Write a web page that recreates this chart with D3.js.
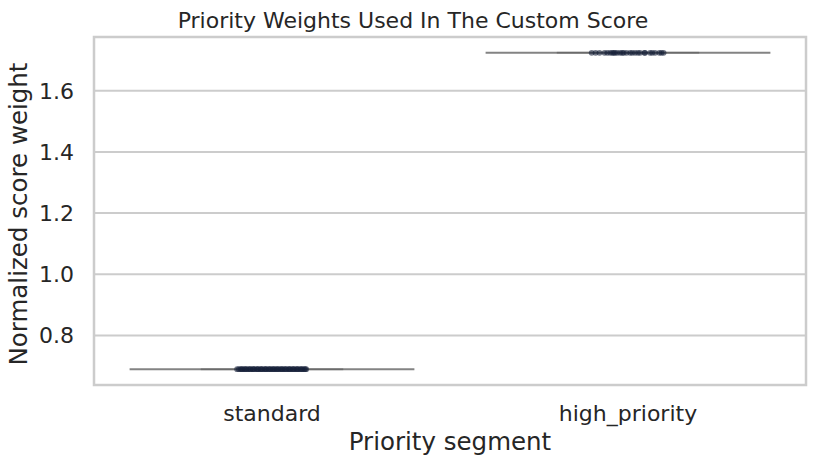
<!DOCTYPE html>
<html>
<head>
<meta charset="utf-8">
<script src="https://cdn.jsdelivr.net/npm/d3@7"></script>
<style>
  body { margin: 0; background: #fff; }
  text { font-family: "DejaVu Sans", sans-serif; fill: #262626; }
</style>
</head>
<body>
<div id="chart"></div>
<script>
// data
const categories = ['standard', 'high_priority']
const weights = [0.6897, 1.7241]          // constant weight per segment
const yTicks = [0.8, 1.0, 1.2, 1.4, 1.6]
// strip-plot jitter, as a fraction of the category band
const jitterStandard = [-0.098, -0.093, -0.088, -0.082, -0.077, -0.071, -0.066, -0.06, -0.054, -0.049,
  -0.043, -0.038, -0.032, -0.027, -0.021, -0.016, -0.01, -0.004, 0.001, 0.007, 0.012, 0.018,
  0.023, 0.029, 0.034, 0.04, 0.046, 0.051, 0.057, 0.062, 0.068, 0.073, 0.079, 0.085, 0.09, 0.096,
  -0.085, -0.062, -0.041, -0.018, 0.004, 0.027, 0.049, 0.071, 0.093, -0.074, -0.052, -0.03, -0.007,
  0.015, 0.038, 0.06, 0.082]
const jitterHigh = [-0.102, -0.091, -0.08, -0.066, -0.058, -0.05, -0.044, -0.036, -0.03, -0.022,
  -0.016, -0.004, 0.006, 0.02, 0.034, 0.048, 0.062, 0.076, 0.088, 0.1, -0.04, -0.012, 0.012,
  0.028, 0.046, 0.068, 0.094]

const W = 816, H = 466
const margin = { top: 37, right: 10, bottom: 81, left: 94 }

const svg = d3.select('#chart').append('svg')
  .attr('width', W)
  .attr('height', H)

const x = d3.scaleBand()
  .domain(categories)
  .range([margin.left, W - margin.right])
  .paddingInner(0)
  .paddingOuter(0)

const [lo, hi] = d3.extent(weights)
const pad = (hi - lo) * 0.05
const y = d3.scaleLinear()
  .domain([lo - pad, hi + pad])
  .range([H - margin.bottom, margin.top])

// grid
svg.append('g')
  .selectAll('line')
  .data(yTicks)
  .join('line')
  .attr('x1', margin.left)
  .attr('x2', W - margin.right)
  .attr('y1', d => y(d))
  .attr('y2', d => y(d))
  .attr('stroke', '#cccccc')
  .attr('stroke-width', 2)

// boxes collapse to a line, caps overlap the box edge
const boxW = x.bandwidth() * 0.8
const capW = boxW * 0.5
const box = svg.append('g')
  .selectAll('g')
  .data(categories)
  .join('g')

box.append('line')
  .attr('x1', d => x(d) + x.bandwidth() / 2 - boxW / 2)
  .attr('x2', d => x(d) + x.bandwidth() / 2 + boxW / 2)
  .attr('y1', (d, i) => y(weights[i]))
  .attr('y2', (d, i) => y(weights[i]))
  .attr('stroke', '#404040')
  .attr('stroke-opacity', 0.65)
  .attr('stroke-width', 2)

box.append('line')
  .attr('x1', d => x(d) + x.bandwidth() / 2 - capW / 2)
  .attr('x2', d => x(d) + x.bandwidth() / 2 + capW / 2)
  .attr('y1', (d, i) => y(weights[i]))
  .attr('y2', (d, i) => y(weights[i]))
  .attr('stroke', '#404040')
  .attr('stroke-opacity', 0.35)
  .attr('stroke-width', 2)

// strip points
const points = [
  ...jitterStandard.map(j => ({ cat: categories[0], value: weights[0], j })),
  ...jitterHigh.map(j => ({ cat: categories[1], value: weights[1], j }))
]
svg.append('g')
  .selectAll('circle')
  .data(points)
  .join('circle')
  .attr('cx', d => x(d.cat) + x.bandwidth() * (0.5 + d.j))
  .attr('cy', d => y(d.value))
  .attr('r', 2.9)
  .attr('fill', '#152039')
  .attr('fill-opacity', 0.6)

// frame
svg.append('rect')
  .attr('x', margin.left)
  .attr('y', margin.top)
  .attr('width', W - margin.right - margin.left)
  .attr('height', H - margin.bottom - margin.top)
  .attr('fill', 'none')
  .attr('stroke', '#cccccc')
  .attr('stroke-width', 2.5)

// tick labels
svg.append('g')
  .selectAll('text')
  .data(yTicks)
  .join('text')
  .attr('x', margin.left - 20)
  .attr('y', d => y(d))
  .attr('dy', '0.36em')
  .attr('text-anchor', 'end')
  .attr('font-size', 22)
  .text(d => d.toFixed(1))

svg.append('g')
  .selectAll('text')
  .data(categories)
  .join('text')
  .attr('x', d => x(d) + x.bandwidth() / 2)
  .attr('y', 420.5)
  .attr('text-anchor', 'middle')
  .attr('font-size', 22)
  .text(d => d)

// axis titles
svg.append('text')
  .attr('x', (margin.left + W - margin.right) / 2)
  .attr('y', 450)
  .attr('text-anchor', 'middle')
  .attr('font-size', 24.5)
  .text('Priority segment')

svg.append('text')
  .attr('transform', 'translate(27,' + 214 + ') rotate(-90)')
  .attr('text-anchor', 'middle')
  .attr('font-size', 24.5)
  .text('Normalized score weight')

svg.append('text')
  .attr('x', 413)
  .attr('y', 28)
  .attr('text-anchor', 'middle')
  .attr('font-size', 22)
  .text('Priority Weights Used In The Custom Score')
</script>
</body>
</html>
